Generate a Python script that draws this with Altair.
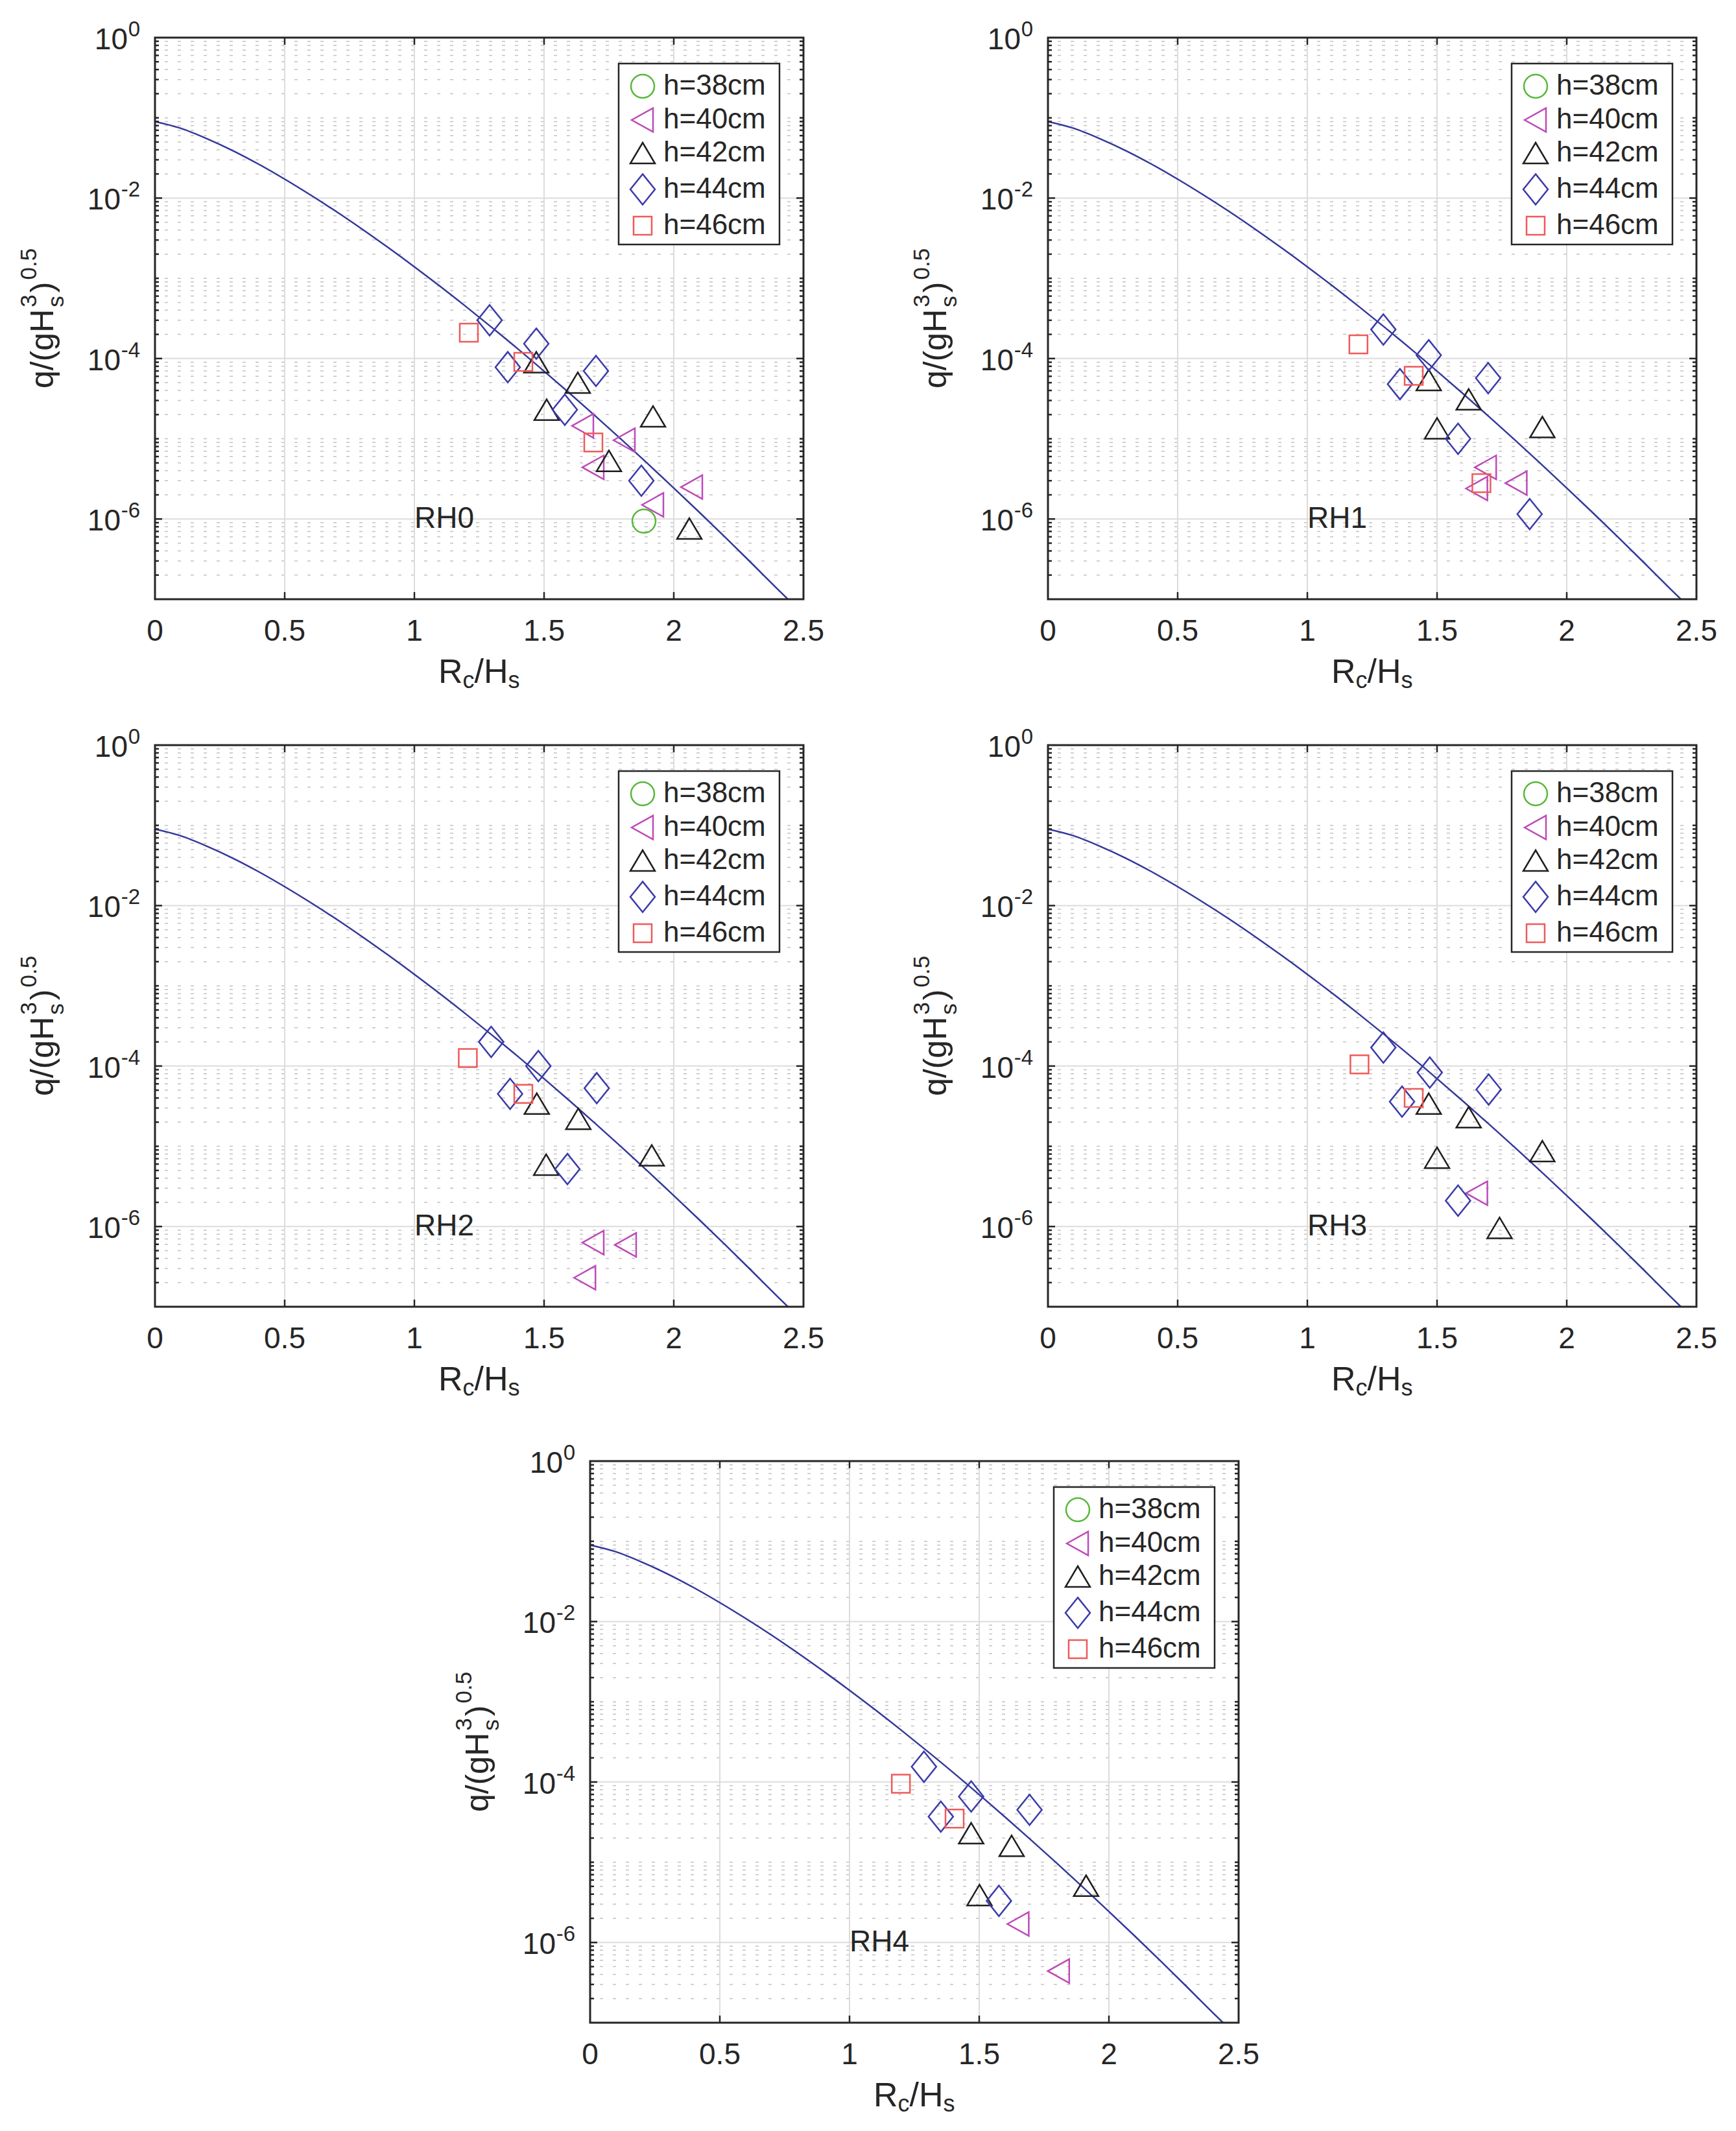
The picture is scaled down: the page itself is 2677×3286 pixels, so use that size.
import altair as alt
import pandas as pd

W, H = 1000, 866
FONT = "Liberation Sans"
TXT = "#262626"

# ---------------- series definitions ----------------
H_LEVELS = [38, 40, 42, 44, 46]
H_LABELS = ["h=38cm", "h=40cm", "h=42cm", "h=44cm", "h=46cm"]
H_COLORS = ["#58B83C", "#BD4BB8", "#1F1F1F", "#3B3BAA", "#F05A5A"]
H_SHAPES = [
    "M0.9,0A0.9,0.9,0,1,1,-0.9,0A0.9,0.9,0,1,1,0.9,0Z",
    "M-0.85,0L0.8,-0.92L0.8,0.92Z",
    "M0,-0.8L0.95,0.8L-0.95,0.8Z",
    "M0,-1.18L0.95,0L0,1.18L-0.95,0Z",
    "M-0.7,-0.7L0.7,-0.7L0.7,0.7L-0.7,0.7Z",
]
CURVE_COLOR = "#34389A"

# ---------------- prediction curve ----------------
CURVE_RC = [0.0, 0.1, 0.2, 0.3, 0.4, 0.5, 0.6, 0.7, 0.8, 0.9, 1.0, 1.1, 1.2,
            1.3, 1.4, 1.5, 1.6, 1.7, 1.8, 1.9, 2.0, 2.1, 2.2, 2.3, 2.4, 2.44]
CURVE_Q = [9.0e-2, 7.4e-2, 5.5e-2, 3.9e-2, 2.64e-2, 1.72e-2, 1.09e-2, 6.75e-3,
           4.07e-3, 2.40e-3, 1.39e-3, 7.9e-4, 4.41e-4, 2.42e-4, 1.31e-4, 6.96e-5,
           3.65e-5, 1.89e-5, 9.67e-6, 4.88e-6, 2.43e-6, 1.20e-6, 5.84e-7, 2.81e-7,
           1.34e-7, 1.0e-7]

# ---------------- measured points per panel ----------------
RH0_rc = [1.885, 1.65, 1.69, 1.81, 1.92, 2.07, 1.47, 1.51, 1.63, 1.75, 1.92, 2.06,
          1.29, 1.36, 1.47, 1.58, 1.70, 1.875, 1.21, 1.42, 1.69]
RH0_q = [9.4e-7, 1.45e-5, 4.4e-6, 9.6e-6, 1.5e-6, 2.5e-6, 9.0e-5, 2.3e-5, 5.0e-5,
         5.3e-6, 1.9e-5, 7.6e-7, 3.0e-4, 7.8e-5, 1.53e-4, 2.3e-5, 7.0e-5, 3.0e-6,
         2.1e-4, 9.1e-5, 9.0e-6]
RH0_h = [38, 40, 40, 40, 40, 40, 42, 42, 42, 42, 42, 42, 44, 44, 44, 44, 44, 44,
         46, 46, 46]

RH1_rc = [1.688, 1.654, 1.806, 1.468, 1.50, 1.622, 1.906, 1.293, 1.357, 1.468,
          1.581, 1.697, 1.857, 1.197, 1.41, 1.671]
RH1_q = [4.4e-6, 2.4e-6, 2.8e-6, 5.4e-5, 1.35e-5, 3.1e-5, 1.4e-5, 2.3e-4, 4.8e-5,
         1.1e-4, 1.0e-5, 5.7e-5, 1.15e-6, 1.5e-4, 6.1e-5, 2.8e-6]
RH1_h = [40, 40, 40, 42, 42, 42, 42, 44, 44, 44, 44, 44, 44, 46, 46, 46]

RH2_rc = [1.69, 1.815, 1.658, 1.472, 1.632, 1.508, 1.915, 1.296, 1.369, 1.478,
          1.59, 1.703, 1.206, 1.42]
RH2_q = [6.3e-7, 5.9e-7, 2.3e-7, 3.4e-5, 2.2e-5, 5.9e-6, 7.7e-6, 2.0e-4, 4.5e-5,
         1.0e-4, 5.2e-6, 5.3e-5, 1.26e-4, 4.5e-5]
RH2_h = [40, 40, 40, 42, 42, 42, 42, 44, 44, 44, 44, 44, 46, 46]

RH3_rc = [1.654, 1.468, 1.622, 1.50, 1.906, 1.741, 1.293, 1.365, 1.472, 1.581,
          1.699, 1.201, 1.41]
RH3_q = [2.6e-6, 3.4e-5, 2.3e-5, 7.2e-6, 8.7e-6, 9.6e-7, 1.7e-4, 3.6e-5, 8.3e-5,
         2.1e-6, 5.1e-5, 1.05e-4, 4.0e-5]
RH3_h = [40, 42, 42, 42, 42, 42, 44, 44, 44, 44, 44, 46, 46]

RH4_rc = [1.651, 1.807, 1.469, 1.625, 1.501, 1.912, 1.287, 1.352, 1.469, 1.576,
          1.694, 1.198, 1.405]
RH4_q = [1.7e-6, 4.4e-7, 2.3e-5, 1.6e-5, 3.9e-6, 5.1e-6, 1.55e-4, 3.7e-5, 6.6e-5,
         3.3e-6, 4.5e-5, 9.5e-5, 3.5e-5]
RH4_h = [40, 40, 42, 42, 42, 42, 44, 44, 44, 44, 44, 46, 46]

# ---------------- axis ticks / grid ----------------
X_TICKS = [0, 0.5, 1, 1.5, 2, 2.5]
X_GRID = [0.5, 1, 1.5, 2]
Y_MAJOR = [1e-2, 1e-4, 1e-6]
Y_MINOR = [m * 10.0 ** e for e in range(-7, 0) for m in range(2, 10)] + [1e-1, 1e-3, 1e-5]
Y_TICK_VALUES = [1.0, 1e-2, 1e-4, 1e-6]
Y_TICK_EXP = ["0", "-2", "-4", "-6"]


def panel(name, rc, q, hh):
    xs = alt.Scale(domain=[0, 2.5], nice=False, zero=False)
    ys = alt.Scale(type="log", domain=[1e-7, 1], nice=False)
    pts = pd.DataFrame({"rc": rc, "q": q, "h": ["h=%dcm" % v for v in hh]})
    curve = pd.DataFrame({"rc": CURVE_RC, "q": CURVE_Q})
    one = pd.DataFrame({"k": [0]})
    ylab = pd.DataFrame({"v": Y_TICK_VALUES, "e": Y_TICK_EXP})

    layers = []
    # minor dotted horizontal grid
    layers.append(alt.Chart(pd.DataFrame({"v": Y_MINOR})).mark_rule(
        color="#C2C2C2", strokeWidth=1.5, strokeDash=[5, 15]).encode(
        y=alt.Y("v:Q", scale=ys, axis=None)))
    # major grid
    layers.append(alt.Chart(pd.DataFrame({"v": Y_MAJOR})).mark_rule(
        color="#DCDCDC", strokeWidth=2).encode(y=alt.Y("v:Q", scale=ys, axis=None)))
    layers.append(alt.Chart(pd.DataFrame({"v": X_GRID})).mark_rule(
        color="#DCDCDC", strokeWidth=2).encode(x=alt.X("v:Q", scale=xs, axis=None)))
    # legend box background
    layers.append(alt.Chart(one).mark_rect(fill="white", stroke=TXT, strokeWidth=2.5).encode(
        x=alt.value(715), x2=alt.value(963), y=alt.value(40), y2=alt.value(319)))
    # curve
    layers.append(alt.Chart(curve).mark_line(
        color=CURVE_COLOR, strokeWidth=2.5, clip=True, interpolate="monotone").encode(
        x=alt.X("rc:Q", scale=xs, axis=None), y=alt.Y("q:Q", scale=ys, axis=None)))
    # points
    leg = alt.Legend(orient="none", legendX=715, legendY=38, title=None, padding=15,
                     rowPadding=5, labelOffset=10, labelFontSize=44, labelFont=FONT,
                     labelColor=TXT, labelLimit=400, symbolSize=1600,
                     symbolStrokeWidth=2.5)
    layers.append(alt.Chart(pts).mark_point(filled=False, size=1600, strokeWidth=2.5,
                                            opacity=1).encode(
        x=alt.X("rc:Q", scale=xs, axis=None),
        y=alt.Y("q:Q", scale=ys, axis=None),
        color=alt.Color("h:N", scale=alt.Scale(domain=H_LABELS, range=H_COLORS), legend=leg),
        shape=alt.Shape("h:N", scale=alt.Scale(domain=H_LABELS, range=H_SHAPES), legend=leg),
    ))
    # panel label
    layers.append(alt.Chart(one).mark_text(text=name, align="left", baseline="middle",
                                           fontSize=46, font=FONT, color=TXT).encode(
        x=alt.XDatum(1.0, scale=xs, axis=None), y=alt.YDatum(1e-6, scale=ys, axis=None)))
    # inward ticks
    for vals, ln in ((Y_MAJOR, 11), (Y_MINOR, 6)):
        d = pd.DataFrame({"v": vals})
        layers.append(alt.Chart(d).mark_rule(color=TXT, strokeWidth=2.5).encode(
            y=alt.Y("v:Q", scale=ys, axis=None), x=alt.value(0), x2=alt.value(ln)))
        layers.append(alt.Chart(d).mark_rule(color=TXT, strokeWidth=2.5).encode(
            y=alt.Y("v:Q", scale=ys, axis=None), x=alt.value(W), x2=alt.value(W - ln)))
    dx_ = pd.DataFrame({"v": X_GRID})
    layers.append(alt.Chart(dx_).mark_rule(color=TXT, strokeWidth=2.5).encode(
        x=alt.X("v:Q", scale=xs, axis=None), y=alt.value(H), y2=alt.value(H - 11)))
    layers.append(alt.Chart(dx_).mark_rule(color=TXT, strokeWidth=2.5).encode(
        x=alt.X("v:Q", scale=xs, axis=None), y=alt.value(0), y2=alt.value(11)))
    # frame
    layers.append(alt.Chart(one).mark_rect(fillOpacity=0, stroke=TXT, strokeWidth=3).encode(
        x=alt.value(0), x2=alt.value(W), y=alt.value(0), y2=alt.value(H)))
    # x tick labels
    layers.append(alt.Chart(pd.DataFrame({"v": X_TICKS})).mark_text(
        align="center", baseline="alphabetic", fontSize=46, font=FONT, color=TXT).encode(
        x=alt.X("v:Q", scale=xs, axis=None), y=alt.value(H + 64),
        text=alt.Text("v:Q", format="~g")))
    # y tick labels: 10 with superscript exponent
    layers.append(alt.Chart(ylab).transform_filter("datum.v == 1").mark_text(
        text="10", align="right", baseline="alphabetic", dy=18, fontSize=46,
        font=FONT, color=TXT).encode(y=alt.Y("v:Q", scale=ys, axis=None), x=alt.value(-42)))
    layers.append(alt.Chart(ylab).transform_filter("datum.v < 1").mark_text(
        text="10", align="right", baseline="alphabetic", dy=18, fontSize=46,
        font=FONT, color=TXT).encode(y=alt.Y("v:Q", scale=ys, axis=None), x=alt.value(-53)))
    layers.append(alt.Chart(ylab).mark_text(
        align="right", baseline="alphabetic", dy=-2, fontSize=33,
        font=FONT, color=TXT).encode(y=alt.Y("v:Q", scale=ys, axis=None),
                                     x=alt.value(-23), text="e:N"))
    # x title  R_c/H_s
    for t, px, py, fs in (("R", 437, H + 129, 52), ("c", 474.5, H + 137, 36),
                          ("/H", 492.5, H + 129, 52), ("s", 544.5, H + 137, 36)):
        layers.append(alt.Chart(one).mark_text(text=t, align="left", baseline="alphabetic",
                                               fontSize=fs, font=FONT, color=TXT).encode(
            x=alt.value(px), y=alt.value(py)))
    # y title  q/(gH_s^3)^0.5 (rotated)
    for t, px, py, fs in (("q/(gH", -157, 541, 50), ("s", -141, 415.7, 35),
                          ("3", -183, 415.7, 35), (")", -157, 393.2, 50),
                          ("0.5", -183, 373.5, 35)):
        layers.append(alt.Chart(one).mark_text(text=t, align="left", baseline="alphabetic",
                                               angle=270, fontSize=fs, font=FONT,
                                               color=TXT).encode(
            x=alt.value(px), y=alt.value(py)))
    return alt.layer(*layers).properties(width=W, height=H)


p0 = panel("RH0", RH0_rc, RH0_q, RH0_h)
p1 = panel("RH1", RH1_rc, RH1_q, RH1_h)
p2 = panel("RH2", RH2_rc, RH2_q, RH2_h)
p3 = panel("RH3", RH3_rc, RH3_q, RH3_h)
p4 = panel("RH4", RH4_rc, RH4_q, RH4_h)

spacer = alt.Chart(pd.DataFrame({"k": [0]})).mark_point(opacity=0).encode(
    x=alt.value(0), y=alt.value(0)).properties(width=460, height=10)

ind = dict(color="independent", shape="independent")
row1 = alt.hconcat(p0, p1, spacing=134).resolve_scale(**ind)
row2 = alt.hconcat(p2, p3, spacing=134).resolve_scale(**ind)
row3 = alt.hconcat(spacer, p4, spacing=0).resolve_scale(**ind)
top = alt.vconcat(row1, row2, spacing=53).resolve_scale(**ind)
chart = alt.vconcat(top, row3, spacing=66).resolve_scale(**ind).properties(
    padding={"left": 20, "top": 22, "right": 10, "bottom": 10}).configure_view(strokeWidth=0)

chart.save("out.html", embed_options={"renderer": "svg", "actions": False})
